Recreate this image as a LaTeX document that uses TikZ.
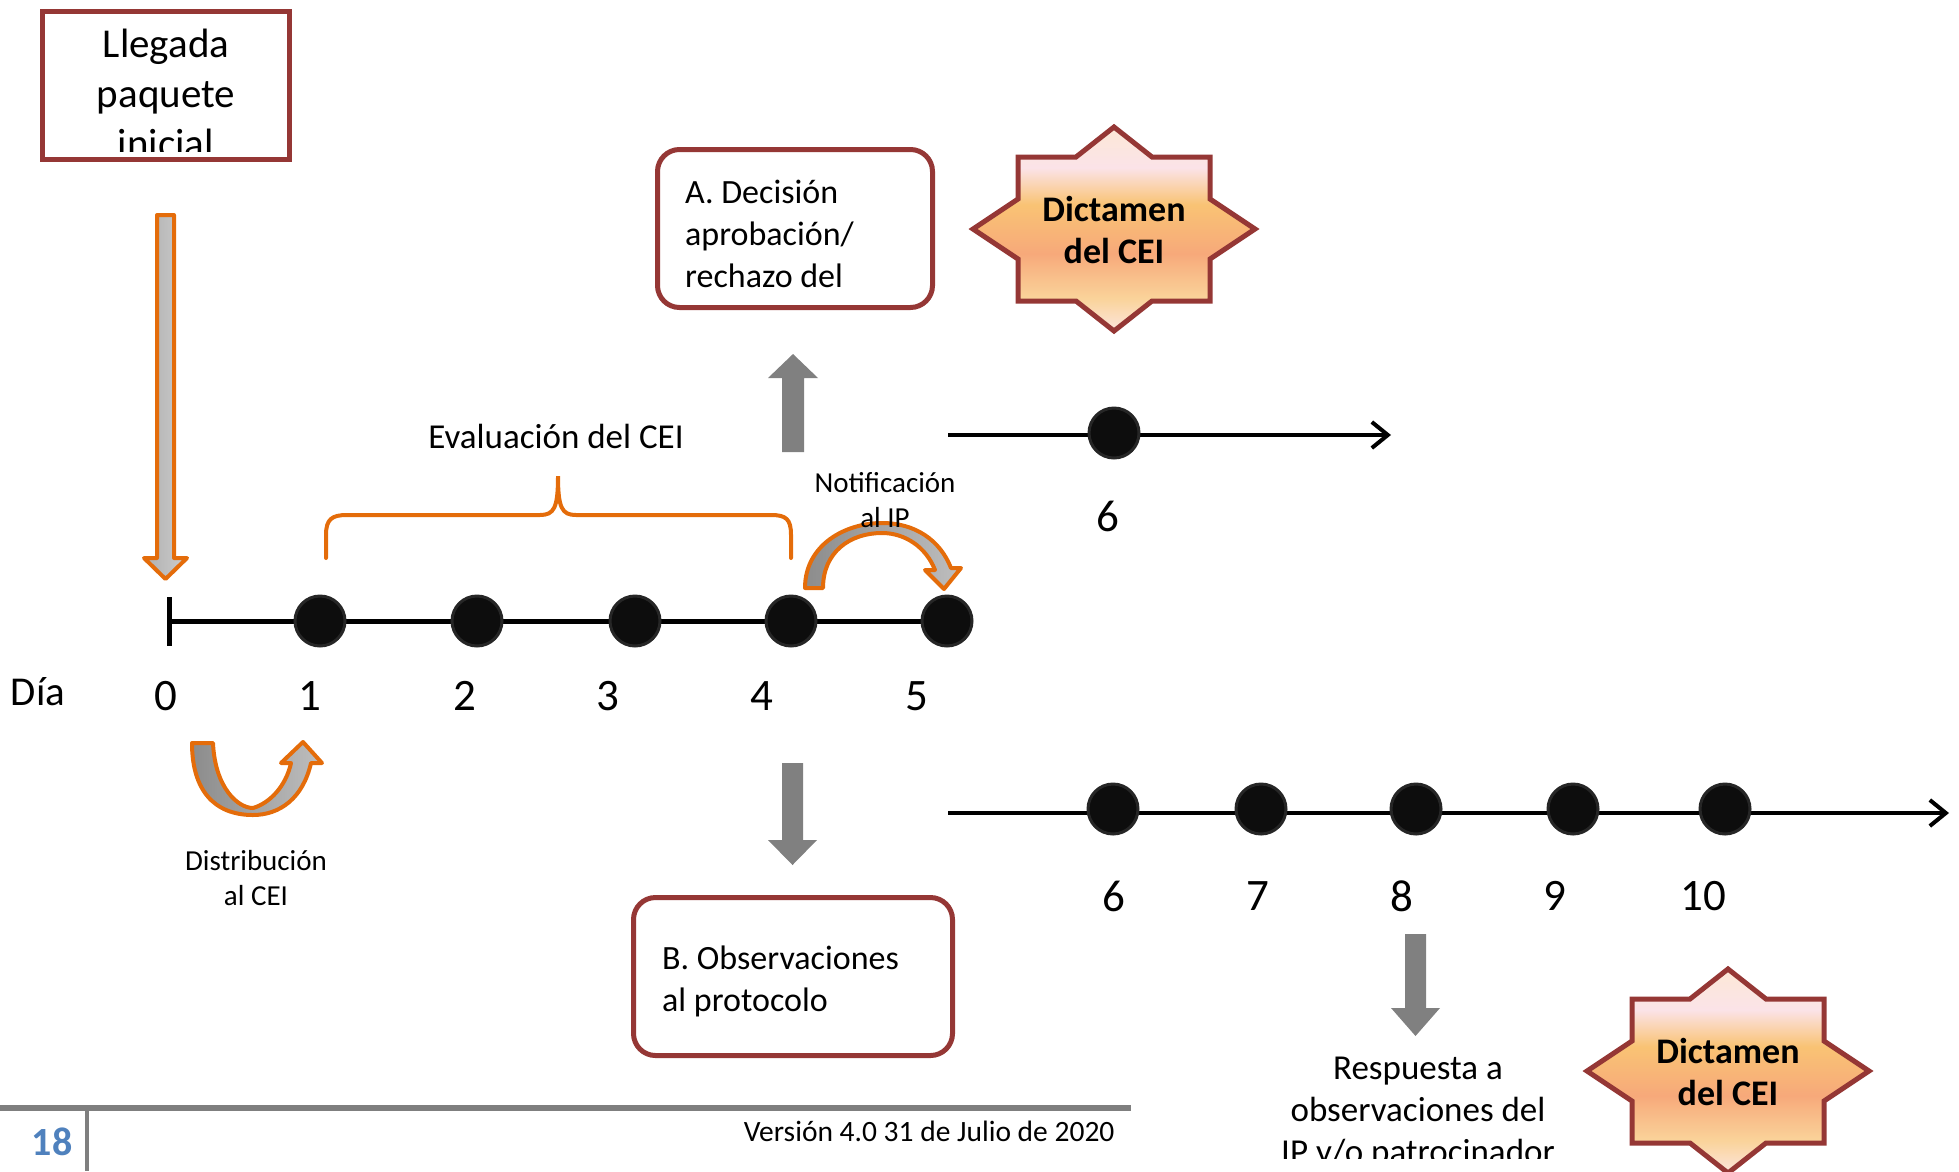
\documentclass[tikz,border=0pt]{standalone}
\usepackage{fontspec}
\setmainfont{Carlito}
\usepackage{xcolor}
\usepackage{tikz}
\usetikzlibrary{arrows.meta, backgrounds}

\definecolor{boxred}{RGB}{149,55,53}
\definecolor{brandorange}{RGB}{228,108,10}
\definecolor{arrowgray}{RGB}{128,128,128}
\definecolor{dotfill}{RGB}{13,13,13}
\definecolor{dotedge}{RGB}{38,38,38}
\definecolor{footgray}{RGB}{127,127,127}
\definecolor{pageblue}{RGB}{79,129,189}
\definecolor{starTop}{RGB}{252,232,214}
\definecolor{starPink}{RGB}{251,227,232}
\definecolor{starGold}{RGB}{249,195,116}
\definecolor{starSalmon}{RGB}{247,169,122}
\definecolor{starLow}{RGB}{250,211,154}
\definecolor{starBot}{RGB}{252,229,220}

\pgfdeclareverticalshading{dictamenshade}{100bp}{color(0bp)=(starBot); color(25bp)=(starBot);
  color(33bp)=(starLow); color(44bp)=(starSalmon); color(56bp)=(starGold);
  color(65bp)=(starPink); color(75bp)=(starTop); color(100bp)=(starTop)}

\tikzset{
  dictamen/.pic={
    \shadedraw[shading=dictamenshade, draw=boxred, line width=5pt, line join=miter]
      (0,-102) -- (38,-72) -- (96,-72) -- (96,-30) -- (141,0) -- (96,30) -- (96,72) -- (38,72)
      -- (0,102) -- (-38,72) -- (-96,72) -- (-96,30) -- (-141,0) -- (-96,-30) -- (-96,-72) -- (-38,-72) -- cycle;
    \node[startext] (-txt) at (0,1) {Dictamen\\del CEI};
  }
}

\begin{document}
\begin{tikzpicture}[x=1pt, y=-1pt,
    box/.style={draw=boxred, line width=5pt, fill=white},
    roundbox/.style={box, rounded corners=22pt},
    dot/.style={circle, draw=dotedge, fill=dotfill, line width=3pt, minimum size=50pt, inner sep=0pt},
    timeline/.style={line width=5pt, black},
    daynum/.style={font=\fontsize{45}{52}\selectfont},
    boxtext/.style={align=left, inner sep=0pt, font=\fontsize{34}{42}\selectfont},
    smalltext/.style={align=center, inner sep=0pt, font=\fontsize{29}{35}\selectfont},
    startext/.style={align=center, inner sep=0pt, font=\fontsize{36}{42}\selectfont\bfseries},
    grayarrow/.style={fill=arrowgray, draw=none},
    bentarrow/.style={draw=brandorange, line width=4pt, line join=round,
      left color={rgb,255:red,140;green,140;blue,140}, right color={rgb,255:red,190;green,190;blue,190}},
    brace/.style={draw=brandorange, line width=4pt, line cap=round},
  ]
  \useasboundingbox (0,0) rectangle (1959,1171);

  % arrival box
  \node[box, minimum width=247pt, minimum height=148pt, inner sep=0pt] (llegada) at (166,85.5) {};
  \begin{scope}
    \clip (45,14) rectangle (287,151);
    \node[align=center, inner sep=0pt, font=\fontsize{41}{50}\selectfont] (llegadatxt) at (166,93) {Llegada\\paquete\\inicial};
  \end{scope}

  % arrival arrow
  \path[bentarrow, left color={rgb,255:red,175;green,175;blue,175}, right color={rgb,255:red,205;green,205;blue,205}]
    (157,215) -- (174,215) -- (174,558) -- (187,558) -- (165.5,579) -- (144,558) -- (157,558) -- cycle;

  % days 0 to 5
  \coordinate (t0) at (169,621);
  \foreach \i/\x in {1/320, 2/477, 3/635, 4/791, 5/947}
    \node[dot] (d\i) at (\x,621) {};
  \begin{scope}[on background layer]
    \draw[timeline] (t0) -- (d5.center);
  \end{scope}
  \draw[timeline] (169,597) -- (169,646);

  \node[font=\fontsize{41}{48}\selectfont] (dia) at (38,692) {Día};
  \foreach \i/\x in {0/166, 1/310, 2/465, 3/608, 4/762, 5/917}
    \node[daynum] (n\i) at (\x,696) {\i};

  % evaluation brace
  \draw[brace] (326,558) -- (326,535) .. controls (326,519) and (332,515) .. (347,515)
    -- (540,515) .. controls (554,515) and (558,508) .. (558,476)
    .. controls (558,508) and (562,515) .. (576,515)
    -- (771,515) .. controls (786,515) and (791,519) .. (791,535) -- (791,558);
  \node[font=\fontsize{35}{42}\selectfont] (evaluacion) at (556,436) {Evaluación del CEI};

  % distribution arrow
  \path[bentarrow] (192,743) -- (213,743)
    .. controls (215,788) and (238,808) .. (253,808)
    .. controls (270,803) and (286,786) .. (291,763)
    -- (281,763) -- (303,742) -- (322,763) -- (311,763)
    .. controls (303,798) and (280,815) .. (253,815)
    .. controls (214,815) and (192,790) .. (192,743) -- cycle;
  \node[smalltext] (distribucion) at (256,878) {Distribución\\al CEI};

  % notification arrow
  \path[bentarrow] (805,588) .. controls (805,545) and (845,523) .. (882,523)
    .. controls (915,523) and (940,540) .. (951,568)
    -- (961,568) -- (944,589) -- (925,570) -- (935,570)
    .. controls (926,547) and (905,533) .. (882,533)
    .. controls (850,533) and (823,552) .. (823,588) -- cycle;
  \node[smalltext] (notificacion) at (885,500) {Notificación\\al IP};

  % option A
  \path[grayarrow] (782,452) -- (804,452) -- (804,378) -- (818,378) -- (793,354) -- (768,378) -- (782,378) -- cycle;
  \node[roundbox, minimum width=275pt, minimum height=158pt] (decisionA) at (795,228.5) {};
  \node[boxtext, anchor=west] (decisionAtxt) at (685,234) {A. Decisión\\aprobación/\\rechazo del};
  \pic (dicA) at (1114,229) {dictamen};

  \coordinate (u0) at (948,435);
  \coordinate (u1) at (1391,435);
  \node[dot] (u6) at (1114,433) {};
  \begin{scope}[on background layer]
    \draw[timeline, line width=4pt, -{Straight Barb[length=16pt, width=26pt]}] (u0) -- (u1);
  \end{scope}
  \node[daynum] (nu6) at (1108,516) {6};

  % option B
  \path[grayarrow] (782,763) -- (803,763) -- (803,840) -- (817,840) -- (792.5,865) -- (768,840) -- (782,840) -- cycle;
  \node[roundbox, minimum width=319pt, minimum height=158pt] (observB) at (793,976.5) {};
  \node[boxtext, anchor=west] (observBtxt) at (662,981) {B. Observaciones\\al protocolo};

  \coordinate (l0) at (948,813);
  \coordinate (l1) at (1949,813);
  \foreach \i/\x in {6/1113, 7/1261, 8/1416, 9/1573, 10/1725}
    \node[dot] (l\i) at (\x,809) {};
  \begin{scope}[on background layer]
    \draw[timeline, line width=4pt, -{Straight Barb[length=16pt, width=26pt]}] (l0) -- (l1);
  \end{scope}
  \foreach \i/\x in {6/1114, 7/1258, 8/1402, 9/1555, 10/1703}
    \node[daynum] (nl\i) at (\x,896) {\i};

  % answer to observations
  \path[grayarrow] (1405,934) -- (1426,934) -- (1426,1008) -- (1440,1008) -- (1415.5,1036) -- (1391,1008) -- (1405,1008) -- cycle;
  \begin{scope}
    \clip (1240,1040) rectangle (1600,1158);
    \node[align=center, inner sep=0pt, font=\fontsize{35}{42}\selectfont] (respuesta) at (1418,1113) {Respuesta a\\observaciones del\\IP y/o patrocinador};
  \end{scope}
  \pic (dicB) at (1728,1071) {dictamen};

  % footer
  \draw[footgray, line width=6pt] (0,1108) -- (1131,1108);
  \draw[footgray, line width=4pt] (87,1108) -- (87,1171);
  \node[font=\fontsize{40}{46}\selectfont\bfseries, text=pageblue] (pagina) at (52,1142) {18};
  \node[anchor=east, font=\fontsize{29.5}{34}\selectfont] (version) at (1118,1131) {Versión 4.0 31 de Julio de 2020};
\end{tikzpicture}
\end{document}
